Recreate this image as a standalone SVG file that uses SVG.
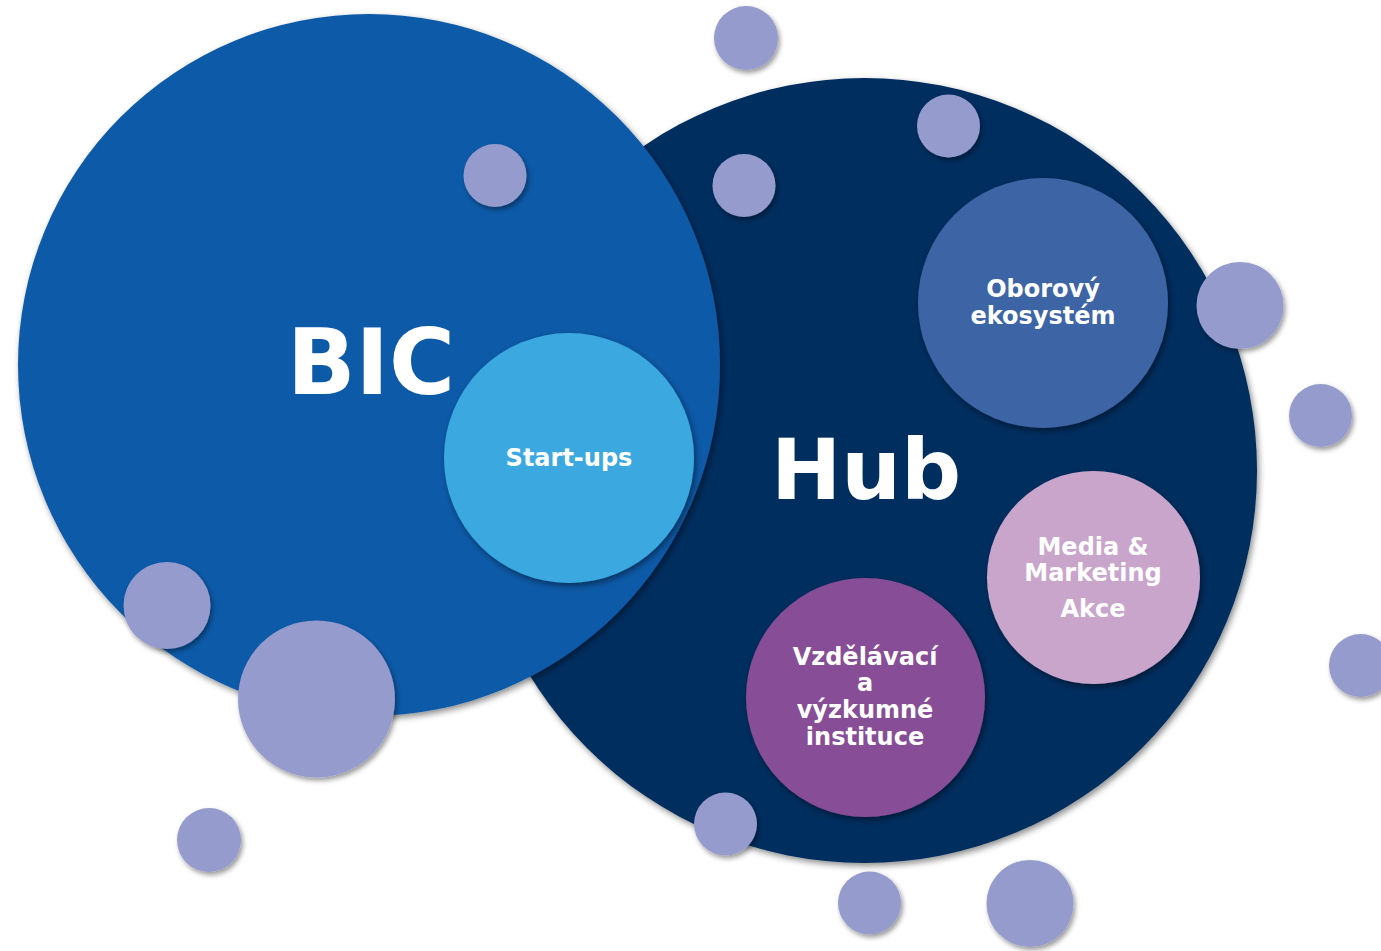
<svg xmlns="http://www.w3.org/2000/svg" width="1381" height="951" viewBox="0 0 1381 951">
<defs>
<filter id="sh" x="-20%" y="-20%" width="140%" height="140%">
<feDropShadow dx="2" dy="3" stdDeviation="3" flood-color="#000" flood-opacity="0.45"/>
</filter>
<filter id="shs" x="-30%" y="-30%" width="160%" height="160%">
<feDropShadow dx="2" dy="3" stdDeviation="2.5" flood-color="#000" flood-opacity="0.4"/>
</filter>
</defs>
<style>
.lbl{font-family:"DejaVu Sans",Verdana,sans-serif;font-weight:bold;fill:#fff;text-anchor:middle}
.big{font-size:90px}
.mid{font-size:24px}
.dot{fill:#959BCD;filter:url(#shs)}
</style>
<rect width="1381" height="951" fill="#fff"/>
<g id="hub">
<circle cx="864.5" cy="470.5" r="392.5" fill="#002D5E" filter="url(#sh)"/>
</g>
<g id="bic">
<circle cx="369" cy="365" r="351" fill="#105AA8" filter="url(#sh)"/>
<text class="lbl big" x="371" y="394">BIC</text>
</g>
<g id="hub-label">
<text class="lbl big" x="866" y="499" style="font-size:84px">Hub</text>
</g>
<g id="startups">
<circle cx="569" cy="458" r="125" fill="#3BA9E0" filter="url(#sh)"/>
<text class="lbl mid" x="569" y="466">Start-ups</text>
</g>
<g id="oborovy">
<circle cx="1043" cy="303" r="125" fill="#3D65A5" filter="url(#sh)"/>
<text class="lbl mid" x="1043" y="297">Oborový</text>
<text class="lbl mid" x="1043" y="324">ekosystém</text>
</g>
<g id="media">
<circle cx="1093.5" cy="577.5" r="106.5" fill="#C9A5CC" filter="url(#sh)"/>
<text class="lbl mid" x="1093" y="555">Media &amp;</text>
<text class="lbl mid" x="1093" y="581">Marketing</text>
<text class="lbl mid" x="1093" y="617">Akce</text>
</g>
<g id="vzdelavaci">
<circle cx="865.5" cy="697.5" r="119.5" fill="#874D96" filter="url(#sh)"/>
<text class="lbl mid" x="865" y="665">Vzdělávací</text>
<text class="lbl mid" x="865" y="691">a</text>
<text class="lbl mid" x="865" y="718">výzkumné</text>
<text class="lbl mid" x="865" y="745">instituce</text>
</g>
<g id="dots">
<circle class="dot" cx="746" cy="38" r="32"/>
<circle class="dot" cx="495" cy="175.5" r="31.5"/>
<circle class="dot" cx="744" cy="185.5" r="31.5"/>
<circle class="dot" cx="948.5" cy="126" r="31.5"/>
<circle class="dot" cx="1240" cy="305.5" r="43.5"/>
<circle class="dot" cx="1320.5" cy="415.5" r="31.5"/>
<circle class="dot" cx="1360.5" cy="665.5" r="31.5"/>
<circle class="dot" cx="167" cy="605.5" r="43.5"/>
<circle class="dot" cx="316.5" cy="699" r="78.5"/>
<circle class="dot" cx="209" cy="840" r="32"/>
<circle class="dot" cx="725.5" cy="824" r="31.5"/>
<circle class="dot" cx="869.5" cy="903" r="31.5"/>
<circle class="dot" cx="1030" cy="903.5" r="43.5"/>
</g>
</svg>
